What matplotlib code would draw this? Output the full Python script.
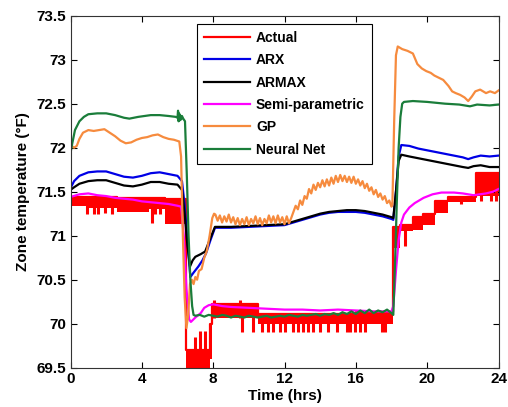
import numpy as np
import matplotlib
matplotlib.use('Agg')
import matplotlib.pyplot as plt
from matplotlib.ticker import FuncFormatter

plt.rcParams['font.family'] = ['Liberation Sans', 'DejaVu Sans']
plt.rcParams['font.weight'] = 'bold'

# ---------------- data ----------------
labels = ['Actual', 'ARX', 'ARMAX', 'Semi-parametric', 'GP', 'Neural Net']
xticks = [0, 4, 8, 12, 16, 20, 24]
yticks = [69.5, 70, 70.5, 71, 71.5, 72, 72.5, 73, 73.5]

# Actual: quantized sensor signal toggling inside a band (segment edges, upper and lower level)
act_edges = [0, 0.9, 2.6, 4.4, 5.3, 6.45, 7.8, 7.95, 10.5, 16.0, 18.1, 18.5, 19.2, 19.75, 20.45, 21.15, 22.75, 24.0]
act_hi = [71.44, 71.44, 71.43, 71.43, 71.42, 69.70, 70.00, 70.22, 70.11, 70.13, 71.10, 71.12, 71.21, 71.25, 71.39, 71.44, 71.71]
act_lo = [71.34, 71.31, 71.27, 71.30, 71.13, 69.30, 69.60, 70.07, 70.00, 70.00, 70.86, 71.05, 71.06, 71.12, 71.26, 71.38, 71.45]
spike_dn_t = [0.95, 1.3, 1.55, 1.95, 2.3, 4.55, 4.75, 5.0, 9.6, 10.24, 10.74, 11.08, 11.36, 11.75, 12.03, 12.48,
              12.76, 13.04, 13.32, 13.6, 14.0, 14.44, 14.94, 15.5, 15.67, 15.95, 16.23, 16.51, 17.46, 17.64,
              18.75, 21.9, 23.0, 23.6, 23.85]
spike_dn_v = [71.25, 71.25, 71.25, 71.26, 71.25, 71.14, 71.25, 71.25, 69.9, 69.9, 69.9, 69.9, 69.9, 69.9, 69.9, 69.9,
              69.9, 69.9, 69.9, 69.9, 69.9, 69.9, 69.9, 69.9, 69.9, 69.9, 69.9, 69.9, 69.9, 69.9,
              70.88, 71.36, 71.39, 71.39, 71.39]
spike_up_t = [7.0, 7.27, 7.55, 8.05, 9.5]
spike_up_v = [69.85, 69.92, 69.92, 70.27, 70.27]

arx_t = [0, 0.2, 0.5, 1.0, 1.5, 2.0, 2.5, 3.0, 3.5, 4.0, 4.5, 5.0, 5.5, 6.0, 6.25, 6.4, 6.55, 6.72, 6.9, 7.17,
         7.4, 7.6, 7.85, 8.1, 9, 10, 11, 12, 12.5, 13, 13.5, 14, 14.5, 15, 15.5, 16, 16.5, 17, 17.5, 18.0,
         18.1, 18.25, 18.4, 18.55, 19, 19.5, 20, 20.5, 21, 21.5, 22, 22.3, 22.6, 23, 23.5, 24]
arx_v = [71.54, 71.62, 71.68, 71.72, 71.73, 71.73, 71.70, 71.67, 71.66, 71.68, 71.71, 71.72, 71.70, 71.68, 71.62,
         71.35, 70.95, 70.53, 70.58, 70.65, 70.72, 70.80, 70.95, 71.09, 71.09, 71.10, 71.11, 71.12, 71.15, 71.18,
         71.21, 71.24, 71.26, 71.27, 71.27, 71.27, 71.26, 71.24, 71.22, 71.19, 71.18, 71.5, 71.9, 72.03, 72.02,
         71.99, 71.97, 71.95, 71.93, 71.91, 71.89, 71.87, 71.89, 71.91, 71.90, 71.91]

armax_t = [0, 0.2, 0.5, 1.0, 1.5, 2.0, 2.5, 3.0, 3.5, 4.0, 4.5, 5.0, 5.5, 6.0, 6.25, 6.4, 6.55, 6.7, 6.85, 7.0,
           7.3, 7.55, 7.8, 8.1, 9, 10, 11, 12, 12.5, 13, 13.5, 14, 14.5, 15, 15.5, 16, 16.5, 17, 17.5, 18.0,
           18.1, 18.25, 18.4, 18.55, 19, 19.5, 20, 20.5, 21, 21.5, 22, 22.3, 22.6, 23, 23.5, 24]
armax_v = [71.52, 71.55, 71.59, 71.62, 71.63, 71.63, 71.60, 71.57, 71.56, 71.58, 71.61, 71.61, 71.59, 71.58, 71.52,
           71.25, 70.90, 70.65, 70.72, 70.76, 70.79, 70.82, 70.95, 71.10, 71.10, 71.11, 71.12, 71.13, 71.16, 71.19,
           71.22, 71.25, 71.27, 71.28, 71.29, 71.29, 71.28, 71.26, 71.24, 71.21, 71.20, 71.5, 71.85, 71.92, 71.90,
           71.88, 71.86, 71.84, 71.82, 71.80, 71.78, 71.77, 71.79, 71.80, 71.78, 71.78]

semi_t = [0, 0.5, 1.0, 1.5, 2.0, 2.5, 3.0, 3.5, 4.0, 4.5, 5.0, 5.5, 6.0, 6.2, 6.35, 6.5, 6.65, 6.75, 7.0, 7.3,
          7.5, 7.75, 8, 8.5, 9, 10, 11, 12, 13, 14, 15, 16, 17, 18.0, 18.1, 18.25, 18.4, 18.55, 18.7, 19,
          19.3, 19.8, 20.3, 20.8, 21.5, 22, 22.6, 23.3, 23.7, 24]
semi_v = [71.44, 71.47, 71.48, 71.46, 71.45, 71.43, 71.42, 71.41, 71.39, 71.38, 71.37, 71.36, 71.34, 71.33, 71.0,
          70.4, 70.05, 70.02, 70.07, 70.12, 70.18, 70.21, 70.22, 70.20, 70.19, 70.18, 70.17, 70.16, 70.16, 70.15,
          70.16, 70.15, 70.14, 70.14, 70.20, 70.60, 70.95, 71.15, 71.24, 71.32, 71.37, 71.43, 71.47, 71.49, 71.49,
          71.48, 71.46, 71.48, 71.50, 71.53]

gp_t_a = [0, 0.2, 0.35, 0.5, 0.7, 1.0, 1.3, 1.6, 1.9, 2.2, 2.5, 2.8, 3.1, 3.4, 3.7, 4.0, 4.3, 4.6, 4.9, 5.2,
          5.5, 5.8, 6.1, 6.2, 6.3, 6.4, 6.5, 6.6, 6.7, 6.8, 6.9, 7.0, 7.1, 7.2, 7.35, 7.5, 7.65, 7.8, 7.95, 8.05]
gp_v_a = [72.03, 72.00, 72.02, 72.10, 72.17, 72.20, 72.19, 72.20, 72.21, 72.17, 72.13, 72.08, 72.05, 72.06, 72.09,
          72.11, 72.12, 72.14, 72.15, 72.12, 72.10, 72.09, 72.07, 71.90, 71.00, 70.30, 69.95, 70.10, 70.45, 70.50,
          70.45, 70.53, 70.50, 70.60, 70.62, 70.75, 70.83, 71.00, 71.20, 71.25]
# GP noisy middle part, sampled every 0.125 h from 8.125 h to 18.0 h
gp_v_mid = [71.24, 71.17, 71.23, 71.15, 71.22, 71.16, 71.24, 71.15, 71.21,
            71.13, 71.20, 71.12, 71.19, 71.13, 71.21, 71.12, 71.19, 71.14, 71.22, 71.13, 71.20, 71.12, 71.19, 71.14, 71.23,
            71.15, 71.22, 71.14, 71.23, 71.15, 71.21, 71.13, 71.22, 71.14, 71.20,
            71.27, 71.34, 71.30, 71.40, 71.35, 71.45, 71.42, 71.53, 71.48, 71.58, 71.52, 71.60, 71.55, 71.63, 71.56,
            71.64, 71.57, 71.66, 71.59, 71.68, 71.61, 71.69, 71.62, 71.68, 71.61, 71.67, 71.60, 71.67, 71.59, 71.64,
            71.57, 71.62, 71.54, 71.59, 71.51, 71.55, 71.47, 71.52, 71.44, 71.48, 71.41, 71.45, 71.37, 71.40, 71.33]
gp_t_b = [18.05, 18.15, 18.25, 18.35, 18.6, 18.9, 19.2, 19.45, 19.7, 19.95, 20.2, 20.4, 20.6, 20.9, 21.2, 21.4,
          21.6, 21.85, 22.1, 22.3, 22.5, 22.7, 22.97, 23.3, 23.53, 23.8, 24.0]
gp_v_b = [71.35, 72.30, 73.05, 73.15, 73.12, 73.10, 73.07, 72.95, 72.90, 72.87, 72.85, 72.82, 72.80, 72.77, 72.70,
          72.64, 72.62, 72.60, 72.57, 72.53, 72.58, 72.64, 72.66, 72.62, 72.64, 72.62, 72.65]

nn_t_a = [0, 0.1, 0.25, 0.5, 0.75, 1.0, 1.5, 2.0, 2.5, 3.0, 3.3, 3.8, 4.5, 5.0, 5.5, 5.9, 6.0, 6.03, 6.06,
          6.09, 6.12, 6.15, 6.2, 6.25, 6.32, 6.42, 6.52, 6.62, 6.72, 6.82, 6.9]
nn_v_a = [71.94, 72.05, 72.20, 72.30, 72.35, 72.38, 72.39, 72.39, 72.37, 72.34, 72.33, 72.35, 72.37, 72.37,
          72.36, 72.35, 72.34, 72.42, 72.30, 72.39, 72.31, 72.37, 72.32, 72.36, 72.33, 72.30, 71.70, 71.00,
          70.50, 70.20, 70.10]
# Neural net middle part, sampled every 0.25 h from 7.0 h to 18.0 h
nn_v_mid = [70.09, 70.10, 70.08, 70.10, 70.09, 70.08, 70.10, 70.09, 70.07, 70.09, 70.08, 70.07, 70.09, 70.08,
            70.07, 70.08, 70.09, 70.07, 70.08, 70.09, 70.08, 70.10, 70.09, 70.08, 70.10, 70.09, 70.10, 70.11,
            70.09, 70.11, 70.10, 70.12, 70.10, 70.13, 70.11, 70.14, 70.11, 70.15, 70.12, 70.16, 70.12, 70.15,
            70.13, 70.16, 70.12]
nn_t_b = [18.1, 18.2, 18.3, 18.4, 18.5, 18.6, 18.7, 19.2, 20, 21, 21.8, 22.4, 22.8, 23.5, 24]
nn_v_b = [70.10, 70.70, 71.40, 72.00, 72.35, 72.50, 72.52, 72.53, 72.52, 72.50, 72.49, 72.47, 72.49, 72.48, 72.49]

# ---------------- plot ----------------
fig = plt.figure(figsize=(5.08, 4.07), dpi=100)
ax = fig.add_axes([0.1388, 0.0966, 0.8425, 0.8649])

c_act, c_arx, c_armax, c_semi, c_gp, c_nn = '#ff0000', '#0000e6', '#000000', '#ff00ff', '#f68b3e', '#1a7d3a'
lw = 1.6

edges = np.array(act_edges)
hi_ext = np.append(act_hi, act_hi[-1])
lo_ext = np.append(act_lo, act_lo[-1])
ax.fill_between(edges, lo_ext, hi_ext, step='post', color=c_act, lw=0)
ax.plot(edges, hi_ext, drawstyle='steps-post', color=c_act, lw=lw, label=labels[0])
idx_dn = np.searchsorted(edges, spike_dn_t, side='right') - 1
ax.vlines(spike_dn_t, spike_dn_v, np.array(act_hi)[idx_dn], color=c_act, lw=2.2)
idx_up = np.searchsorted(edges, spike_up_t, side='right') - 1
ax.vlines(spike_up_t, np.array(act_lo)[idx_up], spike_up_v, color=c_act, lw=2.2)

ax.plot(arx_t, arx_v, color=c_arx, lw=lw, label=labels[1])
ax.plot(armax_t, armax_v, color=c_armax, lw=lw, label=labels[2])
ax.plot(semi_t, semi_v, color=c_semi, lw=lw, label=labels[3])

gp_t_mid = np.linspace(8.125, 18.0, len(gp_v_mid))
gp_t = np.concatenate([gp_t_a, gp_t_mid, gp_t_b])
gp_v = np.concatenate([gp_v_a, gp_v_mid, gp_v_b])
ax.plot(gp_t, gp_v, color=c_gp, lw=lw, label=labels[4])

nn_t_mid = np.linspace(7.0, 18.0, len(nn_v_mid))
nn_t = np.concatenate([nn_t_a, nn_t_mid, nn_t_b])
nn_v = np.concatenate([nn_v_a, nn_v_mid, nn_v_b])
ax.plot(nn_t, nn_v, color=c_nn, lw=lw, label=labels[5])

ax.set_xlim(0, 24)
ax.set_ylim(69.5, 73.5)
ax.set_xticks(xticks)
ax.set_yticks(yticks)
ax.yaxis.set_major_formatter(FuncFormatter(lambda v, p: ('%g' % v)))
ax.tick_params(direction='in', top=True, right=True, labelsize=11, length=4, width=0.8, pad=3)
for s in ax.spines.values():
    s.set_linewidth(0.8)
    s.set_color('#333333')
ax.set_xlabel('Time (hrs)', fontsize=11, fontweight='bold', labelpad=2)
ax.set_ylabel('Zone temperature (\u00b0F)', fontsize=11, fontweight='bold', labelpad=5)

leg = ax.legend(loc='upper left', bbox_to_anchor=(0.2956, 0.9764), borderaxespad=0,
                fontsize=10, frameon=True, fancybox=False, edgecolor='#000000', framealpha=1,
                handlelength=3.3, handletextpad=0.45, labelspacing=0.6, borderpad=0.5)
leg.get_frame().set_linewidth(0.8)

fig.savefig('out.png', dpi=100)
